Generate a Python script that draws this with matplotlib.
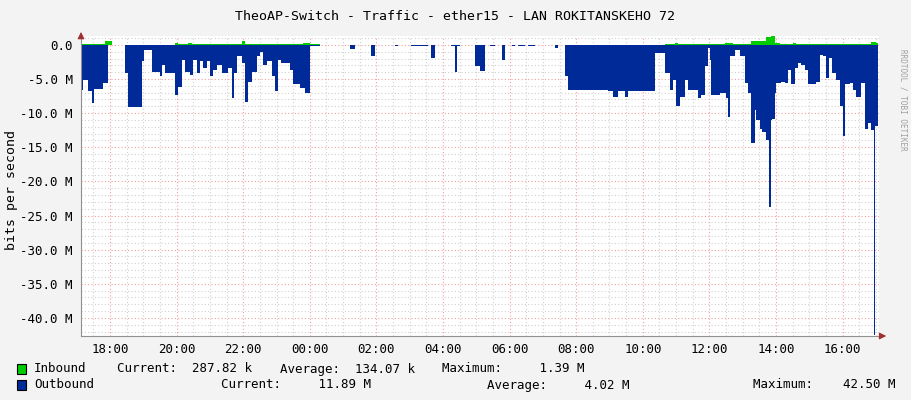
import matplotlib
matplotlib.use("Agg")
import matplotlib.pyplot as plt
import numpy as np
from matplotlib.ticker import MultipleLocator

# times as clock hours (values >24 = next day), step starts
out_z1 = [(0,6.6),(10,5.1),(25,6.8),(35,8.5),(42,6.4),(70,5.6),(85,0),(135,4.1),(145,9.1),(185,2.4),(192,0.8),
          (215,4.0),(240,4.6),(245,2.9),(255,4.1),(285,7.3),(295,6.1),(305,2.2),(315,4.0),(330,4.4),(340,2.2),
          (350,4.1),(360,2.4),(370,3.4),(380,2.4),(390,4.6),(400,3.7),(410,2.9),(425,4.1),(445,3.4),(455,7.8),
          (462,4.1),(470,1.7),(485,2.6),(495,8.3),(505,5.4),(515,4.0),(530,1.7),(540,1.0),(550,2.9),(560,2.4),
          (575,4.6),(585,6.8),(595,2.2),(605,2.6),(630,3.7),(640,5.8),(660,6.3),(675,7.0),(690,0.2),(720,0),
          (810,0.6),(825,0),(875,1.7),(885,0),(945,0.1),(955,0),(995,0.2),(1045,0),(1055,1.9),(1065,0),
          (1115,0.2),(1125,4.0),(1133,0.2),(1140,0),(1185,3.1)]
out_z2 = [(0,3.8),(15,0),(30,0.1),(45,0),(65,2.2),(75,0),(95,0.1),(105,0),(115,0.2),(135,0),(145,0.1),(165,0),
          (225,0.5),(235,0),(255,4.6),(265,6.6),(385,6.8),(400,7.6),(415,6.8),(435,7.6),(445,6.7),(525,1.2),
          (555,4.1),(570,6.6),(580,5.1),(590,9.0),(600,7.6),(615,5.1),(625,6.6),(655,7.8),(665,7.3),(675,3.1),
          (685,0.5),(690,2.2),(695,7.3),(720,7.1),(740,7.8),(745,10.5),(750,1.7),(765,0.7),(780,1.7),(795,5.6),
          (805,7.1),(815,14.4),(825,9.5),(830,11.0),(840,12.3),(848,12.8),(858,14.0),(868,23.8),(874,11.0),
          (877,10.8),(885,7.1),(890,5.6),(905,5.4),(915,5.6),(925,3.7),(935,5.8),(945,3.4),(955,2.6),(965,2.9),
          (975,3.7),(985,5.8),(1010,5.4),(1020,1.5),(1030,1.7),(1040,4.9),(1048,1.9),(1058,4.1),(1070,5.1),
          (1080,9.0),(1090,13.3),(1095,5.8),(1110,5.6),(1120,6.6),(1130,7.6),(1145,5.6),(1155,12.3),(1165,11.4),
          (1173,12.5),(1183,42.5),(1187,11.9),(1196,11.9)]
in_z1 = [(0,0.1),(75,0.5),(95,0.05),(285,0.25),(295,0.1),(325,0.25),(335,0.1),(465,0.2),(485,0.5),(495,0.1),
         (580,0.2),(595,0.1),(670,0.25),(690,0.1),(720,0)]
in_z2 = [(0,0),(555,0.1),(585,0.3),(595,0.1),(655,0.2),(665,0.1),(735,0.25),(760,0.1),(815,0.6),(835,0.5),
         (860,1.2),(875,1.39),(885,0.3),(900,0.2),(940,0.3),(950,0.2),(1010,0.1),(1160,0.2),(1175,0.35),
         (1190,0.29),(1196,0.29)]

def to_arr(z1, z2):
    t = [17.1 + a/100 for a, _ in z1] + [29.11 + a/100 for a, _ in z2]
    v = [b for _, b in z1] + [b for _, b in z2]
    return np.array(t), np.array(v) * 1e6

out_t, out_v = to_arr(out_z1, out_z2)
in_t, in_v = to_arr(in_z1, in_z2)

yticks = [0, -5e6, -10e6, -15e6, -20e6, -25e6, -30e6, -35e6, -40e6]
ylabels = ["0.0", "-5.0 M", "-10.0 M", "-15.0 M", "-20.0 M", "-25.0 M", "-30.0 M", "-35.0 M", "-40.0 M"]
xticks = [18, 20, 22, 24, 26, 28, 30, 32, 34, 36, 38, 40]
xlabels = ["18:00", "20:00", "22:00", "00:00", "02:00", "04:00", "06:00", "08:00", "10:00", "12:00", "14:00", "16:00"]

plt.rcParams['font.family'] = ['DejaVu Sans Mono']
bg = '#F3F3F3'
fig = plt.figure(figsize=(9.11, 4.0), dpi=100, facecolor=bg)
W, H = 911, 400
ax = fig.add_axes([81/W, (H-336)/H, (879-81)/W, 300/H])
ax.set_facecolor('white')
x0 = 18 + (81-110)/33.3
x1 = 18 + (879-110)/33.3
ax.set_xlim(x0, x1)
ax.set_ylim(-42.5e6 - 0.15e6, 1.3e6)

ax.xaxis.set_minor_locator(MultipleLocator(0.5))
ax.yaxis.set_minor_locator(MultipleLocator(1e6))
ax.grid(which='minor', color='#D0D0D0', linestyle=(0, (1, 2)), linewidth=0.8)
ax.grid(which='major', color='#F0A0A0', linestyle=(0, (1, 2)), linewidth=0.8)
ax.set_axisbelow(True)

ax.fill_between(out_t, -out_v, 0, step='post', color='#002A97', linewidth=0)
ax.fill_between(in_t, in_v, 0, step='post', color='#00CC00', linewidth=0)

ax.set_yticks(yticks)
ax.set_yticklabels(ylabels)
ax.set_xticks(xticks)
ax.set_xticklabels(xlabels)
ax.tick_params(which='both', length=0, labelsize=9, colors='black', pad=6)
ax.tick_params(axis='x', pad=5)
for s in ['top', 'right']:
    ax.spines[s].set_visible(False)
for s in ['left', 'bottom']:
    ax.spines[s].set_color('#909090')
ax.annotate('', xy=(x1 + 0.3, -42.65e6), xytext=(x1 - 0.05, -42.65e6),
            arrowprops=dict(arrowstyle='-|>', color='#A03030', lw=0.8), annotation_clip=False)
ax.annotate('', xy=(x0, 2.3e6), xytext=(x0, 1.0e6),
            arrowprops=dict(arrowstyle='-|>', color='#A03030', lw=0.8), annotation_clip=False)

fig.text(455/W, 1 - 17/H, "TheoAP-Switch - Traffic - ether15 - LAN ROKITANSKEHO 72",
         ha='center', va='center', fontsize=9.5)
fig.text(12/W, 1 - 190/H, "bits per second", rotation=90, ha='center', va='center', fontsize=9.5)
fig.text(903/W, 1 - 100/H, "RRDTOOL / TOBI OETIKER", rotation=270, ha='center', va='center',
         fontsize=5.5, color='#A0A0A0')

fig.patches.append(plt.Rectangle((17/W, 1-374/H), 9/W, 10/H, transform=fig.transFigure,
                                 facecolor='#00CC00', edgecolor='black', lw=0.8))
fig.patches.append(plt.Rectangle((17/W, 1-390/H), 9/W, 10/H, transform=fig.transFigure,
                                 facecolor='#002A97', edgecolor='black', lw=0.8))
fs = 9
fig.text(34/W, 1-369/H, "Inbound", ha='left', va='center', fontsize=fs)
fig.text(117/W, 1-369/H, "Current:  287.82 k", ha='left', va='center', fontsize=fs)
fig.text(280/W, 1-369/H, "Average:  134.07 k", ha='left', va='center', fontsize=fs)
fig.text(442/W, 1-369/H, "Maximum:     1.39 M", ha='left', va='center', fontsize=fs)
fig.text(34/W, 1-385/H, "Outbound", ha='left', va='center', fontsize=fs)
fig.text(221/W, 1-385/H, "Current:     11.89 M", ha='left', va='center', fontsize=fs)
fig.text(487/W, 1-385/H, "Average:     4.02 M", ha='left', va='center', fontsize=fs)
fig.text(753/W, 1-385/H, "Maximum:    42.50 M", ha='left', va='center', fontsize=fs)

fig.savefig('out.png', dpi=100, facecolor=bg)
